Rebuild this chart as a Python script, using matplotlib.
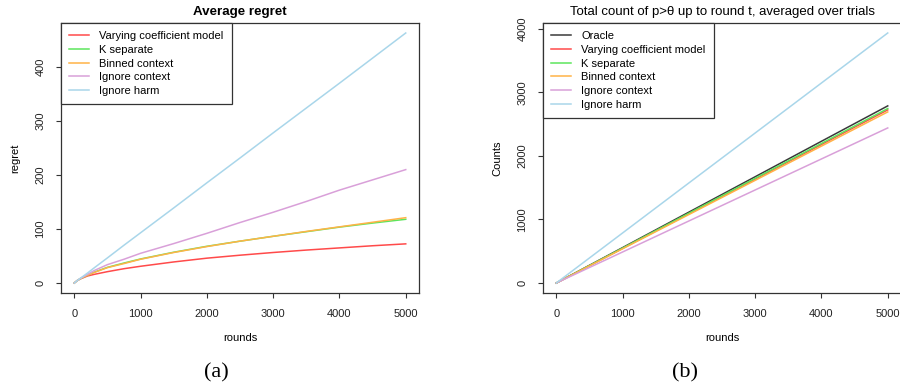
import matplotlib
matplotlib.use("Agg")
import matplotlib.pyplot as plt

plt.rcParams['font.family'] = ['Liberation Sans', 'DejaVu Sans']
plt.rcParams['font.size'] = 8

# panel (a): average regret
rounds_a = [0, 50, 100, 200, 300, 500, 750, 1000, 1500, 2000, 2500, 3000, 3500, 4000, 4500, 5000]
regret_vcm = [0, 5, 8, 13, 16, 21, 26.5, 31, 39, 46, 51.5, 56.5, 61, 65, 69, 72.5]
regret_ksep = [0, 5, 8.5, 14.5, 20, 29, 37, 44.5, 57, 68, 77.5, 86.5, 95, 103.5, 111, 118]
regret_binned = [0, 5, 8.5, 14.5, 19.5, 28.5, 36, 44, 56.5, 67.5, 77.5, 86.5, 95.5, 104, 112.5, 121]
regret_ignctx = [0, 5, 9, 16, 23, 34, 44, 55, 73, 92, 112, 131, 151, 172, 191, 210]
regret_ignharm = [0, 5, 9.5, 18.5, 28, 46.5, 70, 93, 139, 185.5, 231.5, 278, 324, 370, 416.5, 463]

# panel (b): total count of p>theta
rounds_b = [0, 1000, 2000, 3000, 4000, 5000]
count_oracle = [0, 557, 1115, 1672, 2230, 2787]
count_vcm = [0, 545, 1090, 1634, 2179, 2724]
count_ksep = [0, 549, 1098, 1647, 2196, 2745]
count_binned = [0, 538, 1077, 1615, 2154, 2692]
count_ignctx = [0, 488, 976, 1464, 1952, 2440]
count_ignharm = [0, 787, 1574, 2360, 3147, 3934]

names = ["Varying coefficient model", "K separate", "Binned context", "Ignore context", "Ignore harm"]
colors = ["#ff4a4a", "#5ce65c", "#ffb347", "#d9a0d9", "#a9d6ea"]
oracle_color = "#3a3a3a"

W, H = 900, 385
fig = plt.figure(figsize=(9, 3.85), dpi=100)
ax1 = fig.add_axes([61 / W, 1 - 293 / H, 358 / W, 270 / H])
ax2 = fig.add_axes([543 / W, 1 - 293 / H, 358 / W, 270 / H])


def style_axes(ax, yticks):
    for s in ax.spines.values():
        s.set_color("#333333")
        s.set_linewidth(0.9)
    ax.set_xticks([0, 1000, 2000, 3000, 4000, 5000])
    ax.set_yticks(yticks)
    ax.tick_params(direction='out', length=3.8, width=0.8, color="#333333",
                   labelcolor="#222222", pad=7.5, labelsize=8)
    for lab in ax.get_yticklabels():
        lab.set_rotation(90)
        lab.set_va('center')
    ax.set_xlabel("rounds", fontsize=8)
    ax.xaxis.set_label_coords(0.5, -0.148)


def make_legend(ax):
    leg = ax.legend(loc='upper left', bbox_to_anchor=(0, 1), borderaxespad=0,
                    fancybox=False, edgecolor="#333333", fontsize=8,
                    handlelength=1.8, handletextpad=0.9, labelspacing=0.33,
                    borderpad=0.75, framealpha=1)
    leg.get_frame().set_linewidth(0.9)
    return leg


# (a)
series_a = [regret_vcm, regret_ksep, regret_binned, regret_ignctx, regret_ignharm]
for vals, name, c in zip(series_a, names, colors):
    ax1.plot(rounds_a, vals, color=c, lw=1.1, label=name)
ax1.set_xlim(-200, 5200)
ax1.set_ylim(-18.5, 481.5)
style_axes(ax1, [0, 100, 200, 300, 400])
ax1.set_ylabel("regret", fontsize=8)
ax1.yaxis.set_label_coords(-0.113, 0.5)
ax1.set_title("Average regret", fontsize=9.6, fontweight='bold', pad=6)
make_legend(ax1)

# (b)
series_b = [count_oracle, count_vcm, count_ksep, count_binned, count_ignctx, count_ignharm]
names_b = ["Oracle"] + names
colors_b = [oracle_color] + colors
for vals, name, c in zip(series_b, names_b, colors_b):
    ax2.plot(rounds_b, vals, color=c, lw=1.1, label=name)
ax2.set_xlim(-200, 5200)
ax2.set_ylim(-157, 4091)
style_axes(ax2, [0, 1000, 2000, 3000, 4000])
ax2.set_ylabel("Counts", fontsize=8)
ax2.yaxis.set_label_coords(-0.113, 0.5)
ax2.set_title("Total count of p>θ up to round t, averaged over trials",
              fontsize=9.5, pad=6)
make_legend(ax2)

fig.text(216 / W, 1 - 373 / H, "(a)", family='Liberation Serif', fontsize=16,
         ha='center', va='center')
fig.text(685 / W, 1 - 373 / H, "(b)", family='Liberation Serif', fontsize=16,
         ha='center', va='center')

fig.savefig("out.png", dpi=100)
